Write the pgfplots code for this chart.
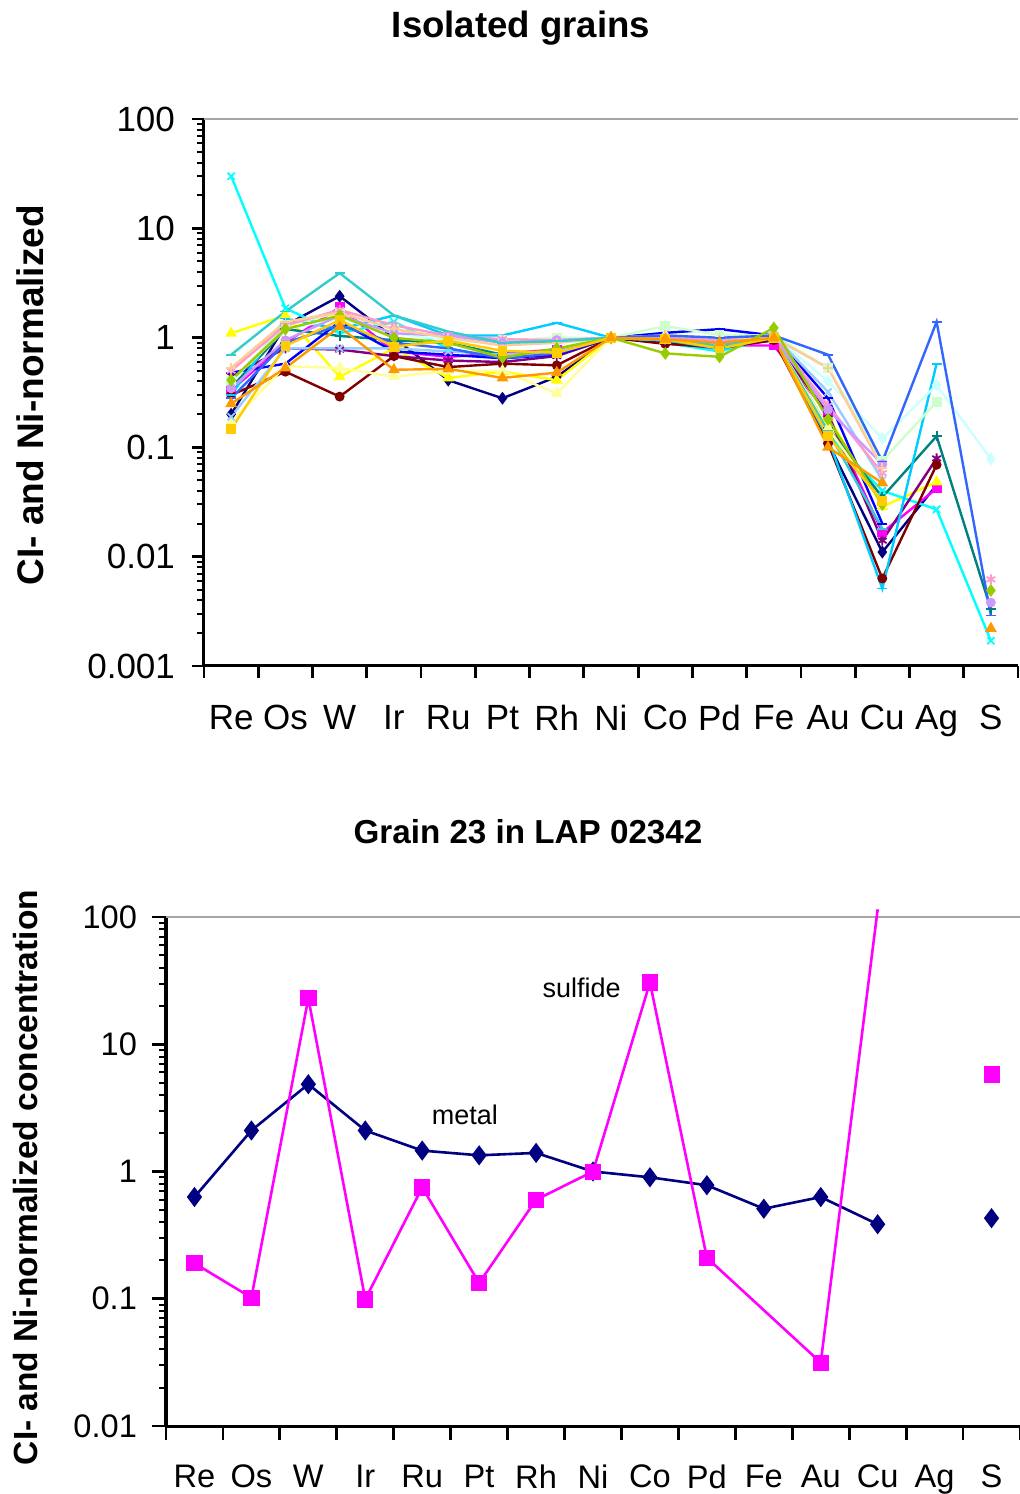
\documentclass[border=0pt]{standalone}
\usepackage{fontspec}
\setmainfont{Liberation Sans}
\usepackage{pgfplots}
\usepackage{pgfplotstable}
\pgfplotsset{compat=1.18}
\definecolor{c1}{HTML}{000080}
\definecolor{c2}{HTML}{FF00FF}
\definecolor{c3}{HTML}{FFFF00}
\definecolor{c4}{HTML}{00FFFF}
\definecolor{c5}{HTML}{800080}
\definecolor{c6}{HTML}{800000}
\definecolor{c7}{HTML}{008080}
\definecolor{c8}{HTML}{0000FF}
\definecolor{c9}{HTML}{00CCFF}
\definecolor{c10}{HTML}{CCFFFF}
\definecolor{c11}{HTML}{CCFFCC}
\definecolor{c12}{HTML}{FFFF99}
\definecolor{c13}{HTML}{99CCFF}
\definecolor{c14}{HTML}{FF99CC}
\definecolor{c15}{HTML}{CC99FF}
\definecolor{c16}{HTML}{FFCC99}
\definecolor{c17}{HTML}{3366FF}
\definecolor{c18}{HTML}{33CCCC}
\definecolor{c19}{HTML}{99CC00}
\definecolor{c20}{HTML}{FFCC00}
\definecolor{c21}{HTML}{FF9900}
\pgfplotstableread{
x s1 s2 s3 s4 s5 s6 s7 s8 s9 s10 s11 s12 s13 s14 s15 s16 s17 s18 s19 s20 s21
0 0.20 0.33 1.10 30 0.45 0.30 0.35 0.48 0.30 0.40 0.40 0.17 0.19 0.50 0.345 0.53 0.28 0.70 0.41 0.146 0.25
1 1.30 0.90 1.60 1.86 0.80 0.49 1.20 0.58 1.50 1.20 1.30 0.55 0.80 1.30 0.95 1.40 0.90 1.74 1.20 0.84 0.53
2 2.40 1.90 0.44 1.10 0.78 0.29 1.04 1.40 1.20 1.50 1.70 0.53 0.80 1.80 1.60 1.70 1.30 3.90 1.60 1.45 1.26
3 1.00 0.75 0.80 1.40 0.68 0.68 0.95 0.75 1.60 1.10 1.20 0.44 0.80 1.30 1.10 1.20 0.90 1.60 1.00 0.83 0.51
4 0.41 0.67 0.43 0.80 0.62 0.54 0.90 0.70 1.05 0.95 1.00 0.50 0.75 1.05 1.05 1.00 0.80 1.14 0.90 0.94 0.52
5 0.28 0.72 0.49 0.65 0.60 0.58 0.70 0.65 1.05 0.90 0.95 0.50 0.70 0.97 0.90 0.85 0.65 0.90 0.66 0.76 0.43
6 0.44 0.78 0.41 0.70 0.68 0.56 0.75 0.70 1.37 0.90 1.00 0.31 0.75 0.95 0.95 0.90 0.72 0.93 0.80 0.73 0.48
7 1 1 1 1 1 1 1 1 1 1 1 1 1 1 1 1 1 1 1 1 1
8 1.00 0.95 0.95 0.90 0.90 0.88 0.95 1.11 0.95 1.05 1.28 0.95 1.00 1.00 1.00 1.05 1.05 0.95 0.72 0.97 0.97
9 0.90 0.85 0.90 0.75 0.80 0.82 0.85 1.20 0.80 1.00 1.06 0.90 0.90 0.95 0.90 1.00 1.00 0.85 0.67 0.80 0.90
10 1.00 0.85 1.00 1.00 0.95 0.95 1.00 1.05 1.00 1.05 1.05 1.00 1.05 1.05 1.00 1.00 1.05 1.00 1.23 1.00 1.00
11 0.11 0.20 0.19 0.13 0.20 0.108 0.15 0.28 0.12 0.40 0.53 0.15 0.32 0.24 0.22 0.53 0.70 0.14 0.18 0.126 0.10
12 0.011 0.0166 0.0286 0.040 0.014 0.0063 0.035 0.020 0.0051 0.12 0.075 0.030 0.050 0.058 0.070 0.065 0.074 0.018 0.030 0.032 0.047
13 0.045 0.042 0.048 0.027 0.079 0.069 0.126 nan 0.58 0.37 0.26 nan nan nan nan nan 1.40 nan nan nan nan
14 nan nan nan 0.0017 nan nan 0.0033 nan nan 0.078 nan nan nan 0.0062 0.0038 nan 0.0029 nan 0.0049 nan 0.0022
}\grains
\pgfplotstableread{
x metal
0 0.63
1 2.1
2 4.85
3 2.1
4 1.46
5 1.34
6 1.40
7 1.0
8 0.90
9 0.78
10 0.51
11 0.63
12 0.385
13 nan
14 0.43
}\metal
\pgfplotstableread{
x sulfide
0 0.19
1 0.102
2 23
3 0.099
4 0.75
5 0.133
6 0.60
7 1.0
8 30.6
9 0.21
11 0.0315
12 115
13 nan
14 5.8
}\sulfide
\pgfplotstableread{
x sulfide
0 0.19
1 0.102
2 23
3 0.099
4 0.75
5 0.133
6 0.60
7 1.0
8 30.6
9 0.21
11 0.0315
14 5.8
}\sulfidemarks
\tikzset{myser/.style={color=#1, line width=1.2pt, mark options={fill=#1, solid, line width=0.9pt}, mark size=2.5pt}}
\begin{document}
\begin{tikzpicture}[x=1pt,y=1pt]
\useasboundingbox (0,0) rectangle (510,747);
\node[font=\fontsize{18.3}{20}\selectfont\bfseries] at (260.5,733) {Isolated grains};
\begin{axis}[
  scale only axis, ymode=log, xmin=-0.5, xmax=14.5,
  axis lines=left, axis line style={-, line width=1.5pt},
  tick align=outside,
  xtick={-0.5,0.5,...,14.5}, xticklabels={},
  extra x ticks={0,1,...,14},
  extra x tick labels={Re,Os,W,Ir,Ru,Pt,Rh,Ni,Co,Pd,Fe,Au,Cu,Ag,S},
  extra x tick style={major tick length=0pt},
  xticklabel style={yshift=-16pt},
  yticklabel style={xshift=-5pt},
  major tick style={black, line width=1.4pt},
  minor tick style={black, line width=1pt},
  major tick length=6pt, minor tick length=3.5pt,
  unbounded coords=jump,
  clip=false,
  at={(102pt,414pt)}, anchor=south west, width=407pt, height=273.5pt,
  ymin=0.001, ymax=100,
  ytick={0.001,0.01,0.1,1,10,100},
  yticklabels={0.001,0.01,0.1,1,10,100},
  ticklabel style={font=\fontsize{17.5}{20}\selectfont},
  ylabel={CI- and Ni-normalized},
  ylabel style={at={(axis description cs:-0.2138,0.495)}, anchor=center, font=\fontsize{18.5}{20}\selectfont\bfseries},
]
\draw[gray!70, line width=0.6pt] (rel axis cs:0,1) -- (rel axis cs:1,1);
\addplot[myser=c1, mark=diamond*] table[x=x,y=s1] {\grains};
\addplot[myser=c2, mark=square*, mark size=2pt] table[x=x,y=s2] {\grains};
\addplot[myser=c3, mark=triangle*] table[x=x,y=s3] {\grains};
\addplot[myser=c4, mark=x] table[x=x,y=s4] {\grains};
\addplot[myser=c5, mark=asterisk] table[x=x,y=s5] {\grains};
\addplot[myser=c6, mark=*, mark size=2pt] table[x=x,y=s6] {\grains};
\addplot[myser=c7, mark=+] table[x=x,y=s7] {\grains};
\addplot[myser=c8, mark=-] table[x=x,y=s8] {\grains};
\addplot[myser=c9, mark=-] table[x=x,y=s9] {\grains};
\addplot[myser=c10, mark=diamond*] table[x=x,y=s10] {\grains};
\addplot[myser=c11, mark=square*, mark size=2pt] table[x=x,y=s11] {\grains};
\addplot[myser=c12, mark=triangle*] table[x=x,y=s12] {\grains};
\addplot[myser=c13, mark=x] table[x=x,y=s13] {\grains};
\addplot[myser=c14, mark=asterisk] table[x=x,y=s14] {\grains};
\addplot[myser=c15, mark=*, mark size=2pt] table[x=x,y=s15] {\grains};
\addplot[myser=c16, mark=+] table[x=x,y=s16] {\grains};
\addplot[myser=c17, mark=-] table[x=x,y=s17] {\grains};
\addplot[myser=c18, mark=-] table[x=x,y=s18] {\grains};
\addplot[myser=c19, mark=diamond*] table[x=x,y=s19] {\grains};
\addplot[myser=c20, mark=square*, mark size=2pt] table[x=x,y=s20] {\grains};
\addplot[myser=c21, mark=triangle*] table[x=x,y=s21] {\grains};
\end{axis}
\node[font=\fontsize{16.6}{20}\selectfont\bfseries] at (264,331) {Grain 23 in LAP 02342};
\begin{axis}[
  scale only axis, ymode=log, xmin=-0.5, xmax=14.5,
  axis lines=left, axis line style={-, line width=1.5pt},
  tick align=outside,
  xtick={-0.5,0.5,...,14.5}, xticklabels={},
  extra x ticks={0,1,...,14},
  extra x tick labels={Re,Os,W,Ir,Ru,Pt,Rh,Ni,Co,Pd,Fe,Au,Cu,Ag,S},
  extra x tick style={major tick length=0pt},
  xticklabel style={yshift=-16pt},
  yticklabel style={xshift=-4pt},
  major tick style={black, line width=1.4pt},
  minor tick style={black, line width=1pt},
  major tick length=7pt, minor tick length=3.5pt,
  unbounded coords=jump,
  clip=false,
  at={(83pt,34pt)}, anchor=south west, width=427pt, height=254.5pt,
  ymin=0.01, ymax=100,
  ytick={0.01,0.1,1,10,100},
  yticklabels={0.01,0.1,1,10,100},
  ticklabel style={font=\fontsize{16.3}{18}\selectfont},
  ylabel={CI- and Ni-normalized concentration},
  ylabel style={at={(axis description cs:-0.165,0.488)}, anchor=center, font=\fontsize{16.75}{18}\selectfont\bfseries},
]
\draw[gray!70, line width=0.6pt] (rel axis cs:0,1) -- (rel axis cs:1,1);
\addplot[color=c1, line width=1.3pt, mark=diamond*, mark size=4pt, mark options={fill=c1}] table[x=x,y=metal] {\metal};
\addplot[color=c2, line width=1.3pt] table[x=x,y=sulfide] {\sulfide};
\addplot[color=c2, only marks, mark=square*, mark size=3.8pt, mark options={fill=c2}] table[x=x,y=sulfide] {\sulfidemarks};
\node[font=\fontsize{13.5}{15}\selectfont] at (axis cs:6.8,27.7) {sulfide};
\node[font=\fontsize{13.5}{15}\selectfont] at (axis cs:4.75,2.78) {metal};
\end{axis}
\end{tikzpicture}
\end{document}
